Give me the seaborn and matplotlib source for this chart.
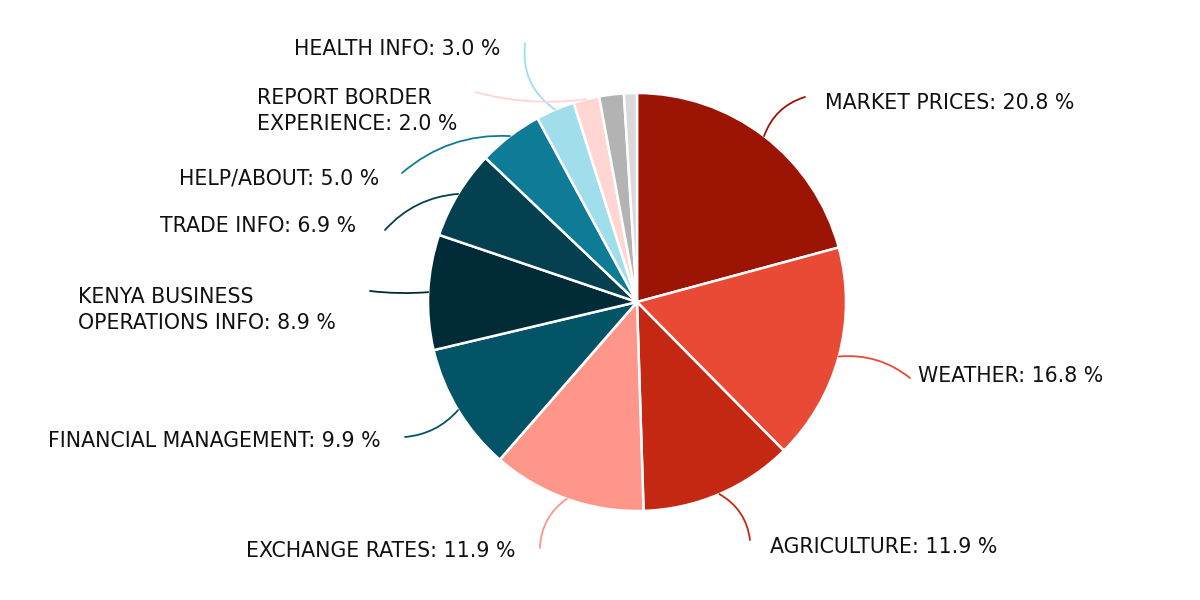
import matplotlib
matplotlib.use("Agg")
import matplotlib.pyplot as plt
import seaborn as sns
import numpy as np

categories = ["MARKET PRICES", "WEATHER", "AGRICULTURE", "EXCHANGE RATES",
              "FINANCIAL MANAGEMENT", "KENYA BUSINESS\nOPERATIONS INFO", "TRADE INFO",
              "HELP/ABOUT", "HEALTH INFO", "REPORT BORDER\nEXPERIENCE", "OTHER 1", "OTHER 2"]
values = [20.8, 16.8, 11.9, 11.9, 9.9, 8.9, 6.9, 5.0, 3.0, 2.0, 1.9, 1.0]
labelled = [True] * 10 + [False, False]
colors = ["#9B1404", "#E84A35", "#C42813", "#FE968A", "#035467", "#012B36",
          "#04404F", "#0F7C97", "#A1DEEC", "#FFD6D2", "#B3B3B3", "#D9D9D9"]

sns.set_theme(style="white")
plt.rcParams["font.family"] = ["DejaVu Sans"]

W, H = 1200, 600
fig = plt.figure(figsize=(12, 6), dpi=100)
cx, cy, R = 637, 302, 209
ax = fig.add_axes([(cx - R) / W, (H - cy - R) / H, 2 * R / W, 2 * R / H])
wedges, _ = ax.pie(values, colors=colors, startangle=90, counterclock=False,
                   radius=1.0, wedgeprops=dict(edgecolor="white", linewidth=1.8))
ax.set_xlim(-1, 1)
ax.set_ylim(-1, 1)
ax.set_aspect("equal")
ax.axis("off")

# label anchor (pixel), alignment, connection curvature
label_pos = [
    ((825, 103), "left", 0.25),
    ((918, 376), "left", 0.2),
    ((770, 547), "left", 0.25),
    ((516, 551), "right", -0.25),
    ((381, 441), "right", 0.2),
    ((78, 310), "left", 0.05),
    ((356, 226), "right", -0.2),
    ((379, 179), "right", -0.2),
    ((500, 49), "right", 0.3),
    ((257, 111), "left", 0.1),
]
line_end = [
    (805, 97), (910, 378), (750, 540), (540, 548), (405, 437),
    (370, 291), (385, 230), (402, 173), (525, 43), (475, 92),
]

for i, w in enumerate(wedges):
    if not labelled[i]:
        continue
    ang = np.deg2rad((w.theta1 + w.theta2) / 2)
    x0, y0 = np.cos(ang), np.sin(ang)
    (tx, ty), ha, rad = label_pos[i]
    ex, ey = line_end[i]
    txt = f"{categories[i]}: {values[i]:.1f} %"
    fig.text(tx / W, 1 - ty / H, txt, ha=ha, va="center", fontsize=14.8,
             color="#111111", linespacing=1.42, multialignment="left")
    ax.annotate("", xy=(x0, y0), xycoords="data",
                xytext=(ex / W, 1 - ey / H), textcoords="figure fraction",
                arrowprops=dict(arrowstyle="-", color=colors[i], lw=1.3,
                                connectionstyle=f"arc3,rad={rad}",
                                shrinkA=0, shrinkB=0))

fig.savefig("out.png", dpi=100, facecolor="white")
